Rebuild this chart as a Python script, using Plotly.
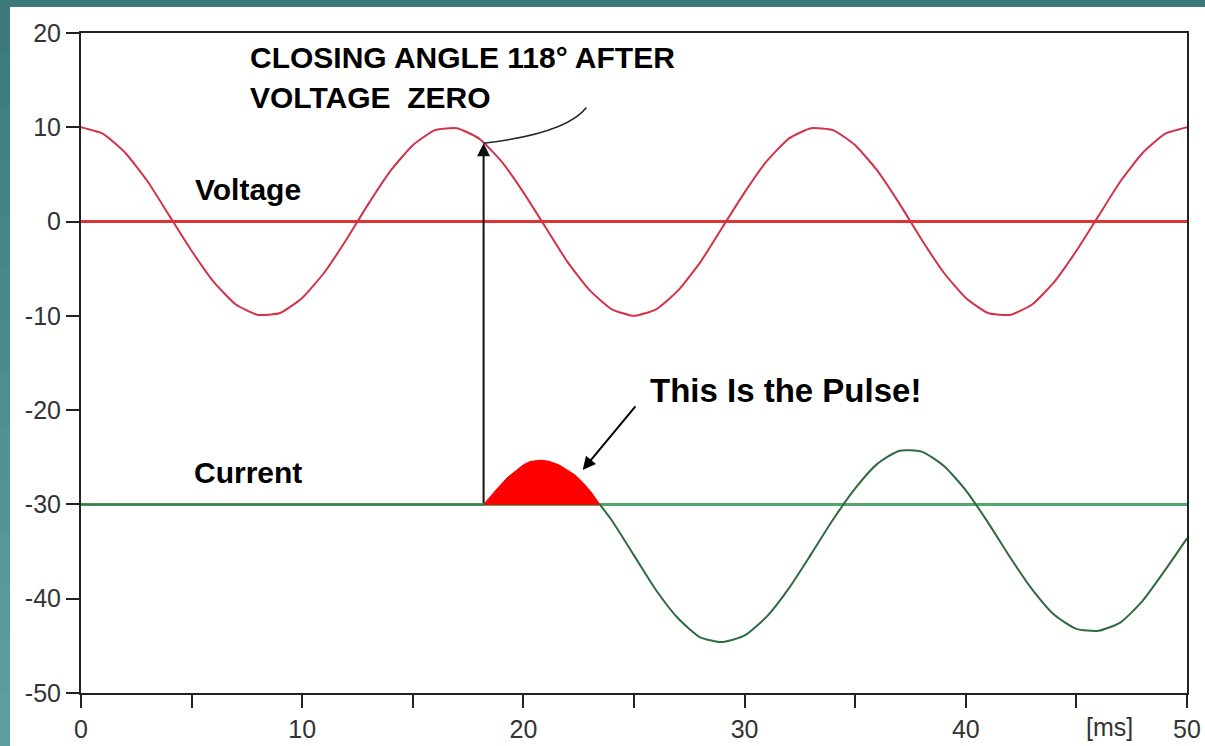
import plotly.graph_objects as go

# ---------------- data ----------------
voltage_t = list(range(0, 51))
voltage = [10, 9.3, 7.3, 4.3, 0.6, -3.1, -6.4, -8.8, -9.9, -9.7, -8.1, -5.4, -1.9, 1.9, 5.4,
           8.1, 9.7, 9.9, 8.8, 6.4, 3.1, -0.6, -4.3, -7.3, -9.3, -10, -9.3, -7.3, -4.3, -0.6,
           3.1, 6.4, 8.8, 9.9, 9.7, 8.1, 5.4, 1.9, -1.9, -5.4, -8.1, -9.7, -9.9, -8.8, -6.4,
           -3.1, 0.6, 4.3, 7.3, 9.3, 10]
voltage_baseline = 0
current_baseline = -30

closing_t = 18.2          # ms, switch closing instant
closing_v = 8.3           # voltage at closing

pre_t = [0, 18.2]
pre_i = [-30, -30]

pulse_t = [18.2, 18.55, 18.9, 19.3, 19.7, 20.0, 20.3, 20.8, 21.2, 21.6, 21.95, 22.35, 22.7,
           23.1, 23.45]
pulse_i = [-30, -29.0, -28.1, -27.1, -26.3, -25.8, -25.45, -25.3, -25.45, -25.8, -26.3,
           -26.9, -27.7, -28.8, -30]

post_t = [23.45] + list(range(24, 51))
post_i = [-30, -31.7, -35.4, -39.1, -42.1, -44.1, -44.6, -43.9, -41.9, -38.9, -35.3, -31.6,
          -28.3, -25.7, -24.3, -24.4, -25.9, -28.5, -31.9, -35.6, -39.0, -41.7, -43.2, -43.4,
          -42.5, -40.2, -37.0, -33.6]

x_tick_vals = [0, 5, 10, 15, 20, 25, 30, 35, 40, 45, 50]
x_tick_text = ["0", "", "10", "", "20", "", "30", "", "40", "", "50"]
y_tick_vals = [-50, -40, -30, -20, -10, 0, 10, 20]
y_tick_text = ["-50", "-40", "-30", "-20", "-10", "0", "10", "20"]

# ---------------- figure ----------------
W, H = 1205, 746
ML, MR, MT, MB = 81, 18, 33, 53
PW, PH = W - ML - MR, H - MT - MB

fig = go.Figure()

# baselines
fig.add_trace(go.Scatter(x=[0, 50], y=[voltage_baseline] * 2, mode="lines",
                         line=dict(color="#e03434", width=3), hoverinfo="skip"))
fig.add_trace(go.Scatter(x=[0, 50], y=[current_baseline] * 2, mode="lines",
                         line=dict(color="#55a56c", width=3), hoverinfo="skip"))
# voltage curve
fig.add_trace(go.Scatter(x=voltage_t, y=voltage, mode="lines",
                         line=dict(color="#d2334a", width=2, shape="spline", smoothing=0.5)))
# current
fig.add_trace(go.Scatter(x=pre_t, y=pre_i, mode="lines",
                         line=dict(color="#3a7d4c", width=2)))
fig.add_trace(go.Scatter(x=post_t, y=post_i, mode="lines",
                         line=dict(color="#2f6b3e", width=2, shape="spline", smoothing=0.6)))
# pulse (filled red)
fig.add_trace(go.Scatter(x=pulse_t + [pulse_t[0]], y=pulse_i + [pulse_i[0]], mode="lines",
                         fill="toself", fillcolor="#ff0000",
                         line=dict(color="#ff0000", width=1)))

FAM = "Liberation Sans, Arial, sans-serif"


def bold(size):
    return dict(family=FAM, size=size, color="#000000")


annotations = [
    dict(x=7.55, y=17.35, xref="x", yref="y", text="<b>CLOSING ANGLE 118° AFTER</b>",
         showarrow=False, xanchor="left", yanchor="middle", font=bold(30)),
    dict(x=7.55, y=13.2, xref="x", yref="y", text="<b>VOLTAGE\u00a0\u00a0ZERO</b>",
         showarrow=False, xanchor="left", yanchor="middle", font=bold(30)),
    dict(x=5.06, y=3.35, xref="x", yref="y", text="<b>Voltage</b>",
         showarrow=False, xanchor="left", yanchor="middle", font=bold(30)),
    dict(x=5.02, y=-26.66, xref="x", yref="y", text="<b>Current</b>",
         showarrow=False, xanchor="left", yanchor="middle", font=bold(30)),
    dict(x=25.62, y=-17.96, xref="x", yref="y", text="<b>This Is the Pulse!</b>",
         showarrow=False, xanchor="left", yanchor="middle", font=bold(33)),
    # vertical closing arrow
    dict(x=closing_t, y=closing_v, ax=closing_t, ay=current_baseline, xref="x", yref="y",
         axref="x", ayref="y", text="", showarrow=True, arrowhead=2, arrowsize=1.3,
         arrowwidth=2, arrowcolor="#111111"),
    # pulse arrow
    dict(x=22.68, y=-26.34, ax=25.12, ay=-19.45, xref="x", yref="y", axref="x", ayref="y",
         text="", showarrow=True, arrowhead=2, arrowsize=1.3, arrowwidth=2,
         arrowcolor="#000000"),
    # [ms] unit label
    dict(x=46.5, y=-34 / PH, xref="x", yref="paper", text="[ms]", showarrow=False,
         xanchor="center", yanchor="middle",
         font=dict(family=FAM, size=25, color="#333333")),
]

shapes = [
    # curved leader from text to closing point
    dict(type="path", xref="x", yref="y",
         path=f"M {closing_t},{closing_v} Q 21.95,9.36 22.85,12.1",
         line=dict(color="#222222", width=1.5)),
    # top teal strip
    dict(type="rect", xref="paper", yref="paper", x0=-ML / PW, x1=1 + MR / PW,
         y0=(PH + MT - 7) / PH, y1=(PH + MT) / PH, fillcolor="#3a7977", line_width=0,
         layer="above"),
]
# left teal strip with a vertical gradient
n_seg = 14
top_c = (0x3a, 0x79, 0x77)
bot_c = (0x5e, 0xa3, 0xa0)
y_top = (PH + MT) / PH
y_bot = -MB / PH
for k in range(n_seg):
    f = (k + 0.5) / n_seg
    c = tuple(int(top_c[j] + (bot_c[j] - top_c[j]) * f) for j in range(3))
    shapes.append(dict(type="rect", xref="paper", yref="paper",
                       x0=-ML / PW, x1=(-ML + 10) / PW,
                       y0=y_top - (y_top - y_bot) * (k + 1) / n_seg - 0.002,
                       y1=y_top - (y_top - y_bot) * k / n_seg,
                       fillcolor="rgb(%d,%d,%d)" % c, line_width=0, layer="above"))

tick_font = dict(family=FAM, size=25, color="#333333")

fig.update_layout(
    width=W, height=H, autosize=False,
    margin=dict(l=ML, r=MR, t=MT, b=MB, pad=0, autoexpand=False),
    paper_bgcolor="#ffffff", plot_bgcolor="#ffffff",
    showlegend=False,
    annotations=annotations,
    shapes=shapes,
    xaxis=dict(range=[0, 50], tickmode="array", tickvals=x_tick_vals, ticktext=x_tick_text,
               ticks="outside", ticklen=13, tickwidth=2, tickcolor="#222222",
               showline=True, linecolor="#222222", linewidth=2, mirror=True,
               showgrid=False, zeroline=False, tickfont=tick_font, automargin=False),
    yaxis=dict(range=[-50, 20], tickmode="array", tickvals=y_tick_vals, ticktext=y_tick_text,
               ticks="outside", ticklen=13, tickwidth=2, tickcolor="#222222",
               showline=True, linecolor="#222222", linewidth=2, mirror=True,
               showgrid=False, zeroline=False, tickfont=tick_font, automargin=False),
)

fig.write_html("out.html",
               config={"displayModeBar": False, "responsive": False},
               post_script="document.body.style.margin='0';"
                           "document.body.style.overflow='hidden';")
